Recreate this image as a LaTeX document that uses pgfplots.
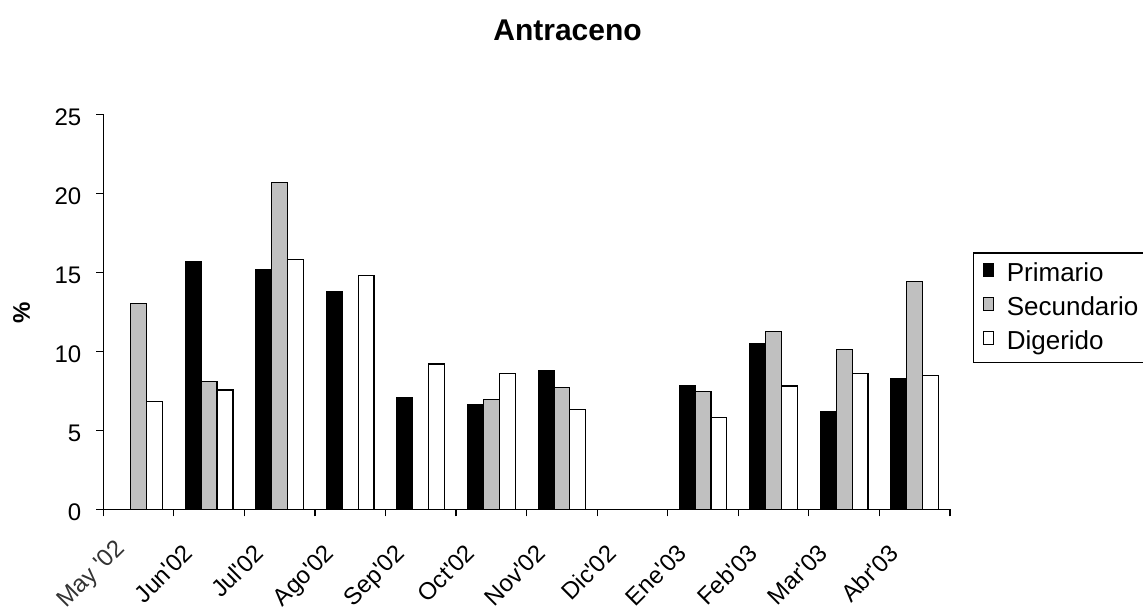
\documentclass[border=0pt]{standalone}
\usepackage{pgfplots}
\pgfplotsset{compat=1.18}
\usepackage{fontspec}
\setmainfont{Liberation Sans}
\definecolor{secgray}{RGB}{192,192,192}
\newcommand{\q}{\textquotesingle}
\begin{document}
\begin{tikzpicture}
\useasboundingbox (0,0) rectangle (571.5pt,307.5pt);
\begin{axis}[
  at={(51.65pt,52.85pt)}, anchor=south west,
  scale only axis, width=423.35pt, height=197.5pt,
  xmin=-0.5, xmax=11.5, ymin=0, ymax=25,
  axis x line=bottom, axis y line=left,
  axis line style={-, line width=0.6pt, black},
  ybar, bar width=0.225,
  tick align=outside, major tick length=3.5pt,
  tick style={black, line width=0.6pt},
  xtick={-0.5,0.5,1.5,2.5,3.5,4.5,5.5,6.5,7.5,8.5,9.5,10.5,11.5},
  xticklabels={{\raisebox{1pt}[\height][\depth]{\color{black!80}May \q02}\hspace*{-2.5pt}},Jun\q02,Jul\q02,Ago\q02,Sep\q02,Oct\q02,Nov\q02,Dic\q02,Ene\q03,Feb\q03,Mar\q03,Abr\q03,{}},
  xticklabel style={font=\fontsize{12}{14}\selectfont, inner sep=0pt, anchor=north east, xshift=4.15pt, yshift=-13pt, rotate=45},
  ytick={0,5,10,15,20,25},
  /pgf/number format/assume math mode=true,
  yticklabel style={font=\fontsize{12}{14}\selectfont, inner sep=0pt, anchor=east, xshift=-7.3pt, yshift=-1.3pt},
  title={Antraceno},
  title style={at={(axis description cs:0.5483,1.1881)}, anchor=base, yshift=-6.5pt, inner sep=0pt, font=\bfseries\fontsize{15}{18}\selectfont},
  ylabel={\%},
  ylabel style={at={(axis description cs:-0.0964,0.498)}, anchor=center, inner sep=0pt, font=\bfseries\fontsize{12}{14}\selectfont},
  legend style={at={(axis description cs:1.0274,0.6506)}, anchor=north west, draw=black, line width=0.6pt,
    inner xsep=4.5pt, inner ysep=5pt, row sep=6.2pt, column sep=6.5pt,
    font=\fontsize{13}{15}\selectfont,
    nodes={inner sep=0pt, text height=9.5pt, text depth=1.3pt}},
  legend cell align=left,
  legend image code/.code={\draw[#1, draw=black, line width=0.5pt] (0pt,-1.3pt) rectangle (5pt,5pt);},
]
\addplot[fill=black, draw=black, line width=0.6pt, bar shift=-0.225] coordinates {
  (1,15.7) (2,15.2) (3,13.8) (4,7.1) (5,6.6) (6,8.75) (8,7.85) (9,10.5) (10,6.2) (11,8.25)};
\addlegendentry{Primario}
\addplot[fill=secgray, draw=black, line width=0.6pt, bar shift=0] coordinates {
  (0,13.0) (1,8.1) (2,20.7) (5,6.95) (6,7.7) (8,7.45) (9,11.25) (10,10.1) (11,14.4)};
\addlegendentry{Secundario}
\addplot[fill=white, draw=black, line width=0.6pt, bar shift=0.225] coordinates {
  (0,6.8) (1,7.55) (2,15.8) (3,14.8) (4,9.2) (5,8.6) (6,6.3) (8,5.8) (9,7.8) (10,8.6) (11,8.45)};
\addlegendentry{Digerido}
\end{axis}
\end{tikzpicture}
\end{document}
